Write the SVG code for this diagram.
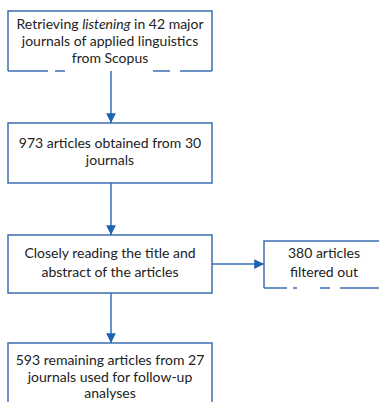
<svg xmlns="http://www.w3.org/2000/svg" width="379" height="402" viewBox="0 0 379 402">
  <style>
    .box { fill: #ffffff; stroke: #3a6fb2; stroke-width: 1.5; }
    .edge { fill: none; stroke: #3a6fb2; stroke-width: 1.5; }
    .link { fill: none; stroke: #3570b8; stroke-width: 1.5; }
    text { font-family: Lato, "Liberation Sans", sans-serif; font-size: 14px; fill: #222222; text-anchor: middle; }
  </style>
  <defs>
    <marker id="arrow" viewBox="0 0 10 10" refX="10" refY="5" markerWidth="6.5" markerHeight="6.5" markerUnits="strokeWidth" orient="auto">
      <path d="M0,0 L10,5 L0,10 Z" fill="#1f62b3"/>
    </marker>
  </defs>
  <rect width="379" height="402" fill="#ffffff"/>

  <g id="connectors">
    <line class="link" x1="111" y1="71" x2="111" y2="123" marker-end="url(#arrow)"/>
    <line class="link" x1="111" y1="183" x2="111" y2="235" marker-end="url(#arrow)"/>
    <line class="link" x1="111" y1="293" x2="111" y2="343" marker-end="url(#arrow)"/>
    <line class="link" x1="212" y1="264" x2="264" y2="264" marker-end="url(#arrow)"/>
  </g>

  <g id="retrieve">
    <rect x="8" y="11" width="204" height="60" fill="#ffffff"/>
    <path class="edge" d="M8,71 V11 H212 V71"/>
    <path class="edge" d="M8,71 H48 M55,71 H65 M153,71 H170 M180,71 H212"/>
    <text x="110" y="29">Retrieving <tspan font-style="italic">listening</tspan> in 42 major</text>
    <text x="110" y="46">journals of applied linguistics</text>
    <text x="110" y="63">from Scopus</text>
  </g>

  <g id="obtained">
    <rect class="box" x="8" y="123" width="204" height="60"/>
    <text x="110" y="148">973 articles obtained from 30</text>
    <text x="110" y="165">journals</text>
  </g>

  <g id="reading">
    <rect class="box" x="8" y="235" width="204" height="58"/>
    <text x="110" y="258">Closely reading the title and</text>
    <text x="110" y="277">abstract of the articles</text>
  </g>

  <g id="filtered">
    <rect x="264" y="241" width="120" height="47" fill="#ffffff"/>
    <path class="edge" d="M264,288 V241 H384"/>
    <path class="edge" d="M264,288 H287 M293,288 H297 M320,288 H330 M340,288 H384"/>
    <text x="324" y="258">380 articles</text>
    <text x="324" y="277">filtered out</text>
  </g>

  <g id="remaining">
    <rect class="box" x="8" y="343" width="204" height="70"/>
    <text x="110" y="365">593 remaining articles from 27</text>
    <text x="110" y="382">journals used for follow-up</text>
    <text x="110" y="398">analyses</text>
  </g>
</svg>
